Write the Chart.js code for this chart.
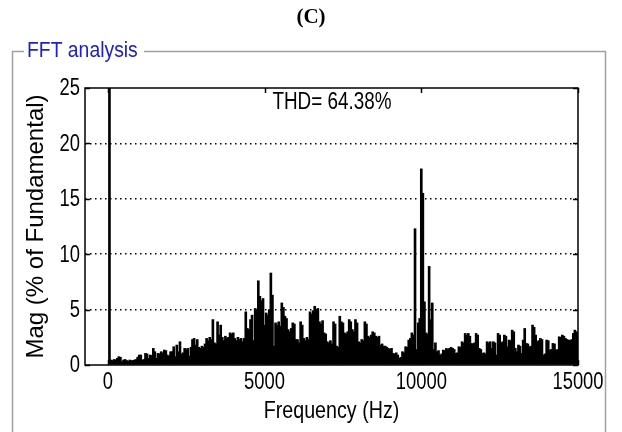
<!DOCTYPE html>
<html>
<head>
<meta charset="utf-8">
<script src="https://cdn.jsdelivr.net/npm/chart.js@4/dist/chart.umd.min.js"></script>
<style>
  html, body { margin: 0; padding: 0; background: #fff; }
  #wrap { width: 622px; height: 432px; }
</style>
</head>
<body>
<div id="wrap"><canvas id="fft" width="622" height="432"></canvas></div>
<script>
// one bar per 50 Hz harmonic, % of fundamental (fundamental itself is off the scale)
const fundamentalHz = 50;
const magnitudes = [
  100, 0.45, 0.4, 0.5, 0.45, 0.6, 0.75, 0.7, 0.3, 0.45, 0.5, 0.4, 0.35, 0.45, 0.4, 0.4, 0.45, 0.5, 0.7, 0.9,
  0.9, 0.45, 0.5, 1.05, 1.0, 0.6, 0.9, 0.85, 1.5, 1.2, 0.6, 1.05, 1.0, 1.2, 1.1, 1.35, 1.3, 0.9, 0.8, 1.2,
  1.2, 1.65, 0.75, 1.8, 1.2, 2.1, 1.0, 1.1, 1.5, 1.4, 1.5, 0.8, 1.6, 2.3, 2.4, 1.8, 2.3, 1.6, 1.5, 1.7,
  1.6, 1.9, 2.4, 2.2, 2.5, 2.3, 4.1, 2.0, 1.9, 3.9, 2.7, 3.6, 2.5, 2.2, 2.6, 2.4, 2.5, 2.9, 2.8, 2.9,
  2.4, 2.2, 2.5, 2.3, 2.4, 2.1, 2.4, 4.8, 3.3, 3.2, 4.1, 4.5, 2.2, 5.1, 5.0, 7.6, 6.2, 5.8, 6.0, 3.6,
  4.7, 4.5, 5.0, 8.3, 6.3, 1.7, 3.8, 3.6, 3.9, 3.5, 5.6, 5.2, 4.4, 4.2, 3.2, 3.0, 3.3, 3.8, 3.7, 2.3,
  2.3, 2.0, 3.9, 3.6, 2.4, 2.2, 2.5, 2.3, 4.8, 4.6, 4.9, 5.3, 5.0, 5.1, 3.9, 3.7, 4.0, 2.9, 2.8, 2.1,
  2.0, 2.2, 1.9, 3.9, 3.7, 1.7, 1.6, 4.4, 3.9, 3.8, 2.9, 2.8, 3.0, 4.1, 3.9, 3.2, 3.0, 4.1, 3.8, 2.1,
  2.0, 2.3, 2.2, 3.9, 3.7, 2.6, 2.5, 2.7, 3.0, 2.9, 2.6, 2.5, 2.6, 1.8, 1.9, 1.7, 1.7, 1.6, 1.5, 1.4,
  1.5, 1.05, 1.0, 1.1, 0.9, 0.6, 0.7, 1.2, 1.1, 1.65, 1.6, 2.25, 2.4, 2.9, 2.7, 12.3, 1.4, 3.8, 4.2, 17.7,
  15.5, 5.7, 2.9, 2.8, 8.9, 4.1, 5.6, 1.4, 2.0, 1.2, 1.3, 0.9, 1.0, 1.35, 1.3, 1.5, 1.4, 1.5, 1.6, 1.5,
  1.4, 1.05, 1.1, 1.65, 1.6, 2.1, 2.0, 2.85, 2.7, 2.85, 2.6, 1.95, 1.9, 2.0, 2.85, 2.7, 1.5, 1.4, 1.05, 1.1,
  1.0, 2.1, 2.0, 2.1, 1.5, 2.1, 2.0, 0.9, 2.85, 2.7, 2.0, 2.1, 2.7, 2.6, 1.65, 2.25, 2.2, 3.15, 3.0, 1.5,
  1.2, 1.8, 1.7, 1.05, 2.25, 3.3, 1.95, 1.9, 1.65, 1.7, 3.6, 3.4, 2.7, 2.1, 2.2, 2.4, 2.3, 0.9, 1.0, 2.25,
  2.2, 1.35, 1.4, 1.95, 1.9, 1.35, 1.4, 2.55, 2.5, 2.7, 2.6, 2.4, 2.3, 2.25, 2.2, 2.3, 2.85, 3.15, 3.0, 2.7
];
const freqTicks = [0, 5000, 10000, 15000];
const magTicks = [0, 5, 10, 15, 20, 25];
const thdText = 'THD= 64.38%';

const points = magnitudes.map((m, i) => ({ x: (i + 1) * fundamentalHz, y: m }));

const sans = '"Liberation Sans", Arial, sans-serif';

// no condensed face installed, so squeeze the matlab-style text horizontally
function narrowText(ctx, text, x, y, size, squeeze, align, color) {
  ctx.save();
  ctx.font = size + 'px ' + sans;
  ctx.fillStyle = color || '#000';
  ctx.textAlign = align;
  ctx.textBaseline = 'middle';
  ctx.translate(x, y);
  ctx.scale(squeeze, 1);
  ctx.fillText(text, 0, 0);
  ctx.restore();
}

const frame = {
  id: 'frame',
  beforeDraw(chart) {
    const ctx = chart.ctx;
    ctx.save();
    ctx.fillStyle = '#000';
    ctx.font = 'bold 21px "Liberation Serif", serif';
    ctx.textAlign = 'center';
    ctx.textBaseline = 'middle';
    ctx.fillText('(C)', 311, 18);
    ctx.strokeStyle = '#a0a0a0';
    ctx.lineWidth = 1.5;
    ctx.beginPath();
    ctx.moveTo(12.5, 432); ctx.lineTo(12.5, 51.5); ctx.lineTo(24, 51.5);
    ctx.moveTo(144, 51.5); ctx.lineTo(605.5, 51.5); ctx.lineTo(605.5, 432);
    ctx.stroke();
    ctx.restore();
    narrowText(ctx, 'FFT analysis', 27, 51, 22, 0.88, 'left', '#2020c8');
  },
  afterDatasetsDraw(chart) {
    const { ctx, chartArea: a, scales: { x, y } } = chart;
    ctx.save();
    ctx.strokeStyle = '#000';
    ctx.lineWidth = 1.5;
    ctx.strokeRect(a.left, a.top, a.right - a.left, a.bottom - a.top);
    ctx.beginPath();
    magTicks.forEach(v => {
      const py = Math.round(y.getPixelForValue(v)) + 0.5;
      ctx.moveTo(a.left, py); ctx.lineTo(a.left + 5, py);
      ctx.moveTo(a.right, py); ctx.lineTo(a.right - 5, py);
    });
    freqTicks.forEach(v => {
      const px = Math.round(x.getPixelForValue(v)) + 0.5;
      ctx.moveTo(px, a.top); ctx.lineTo(px, a.top + 5);
      ctx.moveTo(px, a.bottom); ctx.lineTo(px, a.bottom - 5);
    });
    ctx.stroke();
    ctx.restore();

    magTicks.forEach(v => narrowText(ctx, String(v), a.left - 5, y.getPixelForValue(v) + 1, 23, 0.8, 'right'));
    freqTicks.forEach(v => narrowText(ctx, String(v), x.getPixelForValue(v), a.bottom + 18, 23, 0.8, 'center'));
    narrowText(ctx, 'Frequency (Hz)', (a.left + a.right) / 2, a.bottom + 46, 24, 0.82, 'center');
    narrowText(ctx, thdText, x.getPixelForValue(7150), a.top + 15, 23, 0.82, 'center');
  }
};

new Chart(document.getElementById('fft'), {
  type: 'bar',
  data: {
    datasets: [{
      data: points,
      backgroundColor: '#000',
      borderWidth: 0,
      barThickness: 2
    }]
  },
  options: {
    responsive: false,
    animation: false,
    layout: { padding: { left: 0, right: 44, top: 88, bottom: 0 } },
    plugins: {
      legend: { display: false },
      tooltip: { enabled: false }
    },
    scales: {
      x: {
        type: 'linear',
        offset: false,
        min: -730,
        max: 15000,
        afterBuildTicks: s => { s.ticks = freqTicks.map(v => ({ value: v })); },
        afterFit: s => { s.height = 67; },
        grid: { display: false, drawTicks: false },
        border: { display: false },
        ticks: { display: false }
      },
      y: {
        min: 0,
        max: 25,
        afterBuildTicks: s => { s.ticks = magTicks.map(v => ({ value: v })); },
        afterFit: s => { s.width = 85; },
        grid: {
          drawTicks: false,
          lineWidth: 1.5,
          color: c => (c.tick.value === 0 || c.tick.value === 25) ? 'rgba(0,0,0,0)' : '#000'
        },
        border: { display: false, dash: [1.5, 3.5] },
        ticks: { display: false },
        title: {
          display: true,
          text: 'Mag (% of Fundamental)',
          color: '#000',
          font: { family: sans, size: 24 },
          padding: { top: 22, bottom: 0 }
        }
      }
    }
  },
  plugins: [frame]
});
</script>
</body>
</html>
